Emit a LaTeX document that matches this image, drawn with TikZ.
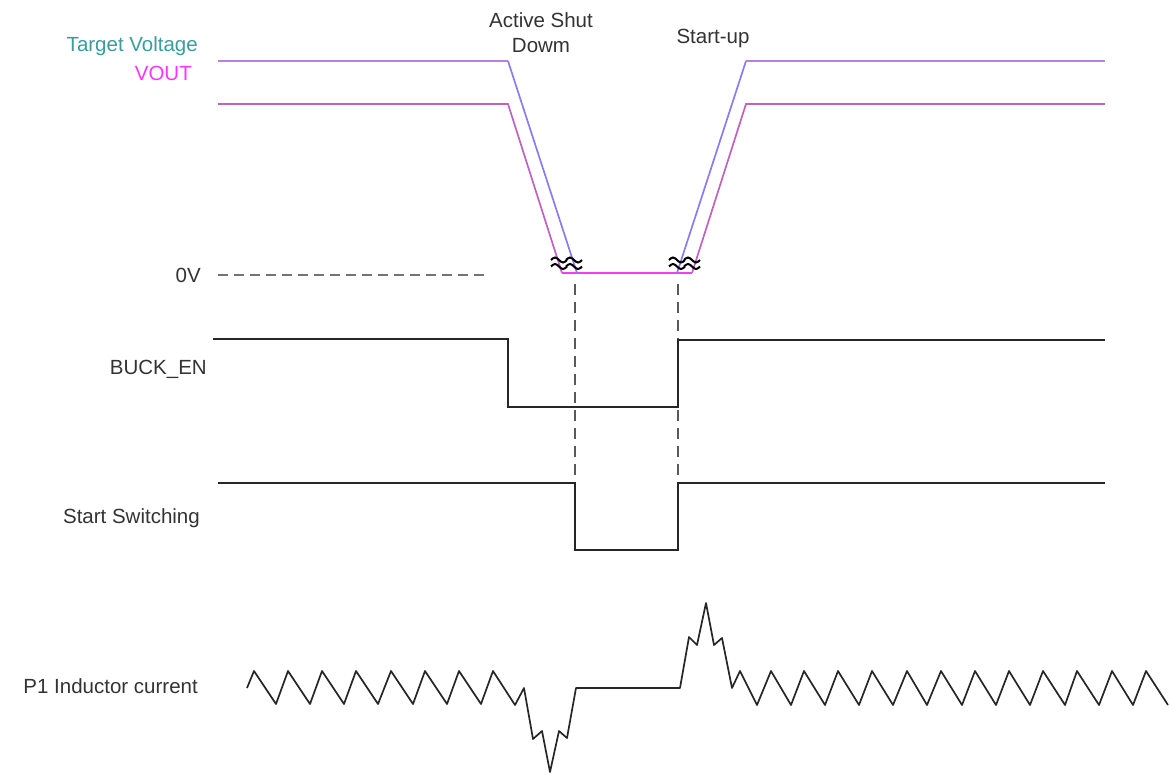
\documentclass[tikz,border=0pt]{standalone}
\usepackage{fontspec}
\setmainfont{Liberation Sans}
\definecolor{teal2}{HTML}{3A9C9C}
\definecolor{mag}{HTML}{FF33FF}
\definecolor{tgt}{HTML}{B880E0}
\definecolor{slp}{HTML}{8A7CF0}
\definecolor{vout}{HTML}{C062C0}
\definecolor{txt}{HTML}{333333}
\begin{document}
\begin{tikzpicture}[x=1pt,y=-1pt,
  lbl/.style={font=\fontsize{20.5}{25}\selectfont,text=txt,inner sep=0pt},
  sig/.style={line width=1.7pt,black!85,line join=miter},
  vline/.style={line width=1.7pt},
  dsh/.style={line width=1.3pt,black!65,dash pattern=on 11pt off 7pt},
  wav/.style={line width=2pt,black}]
\useasboundingbox (0,0) rectangle (1170,774);
% labels
\node[lbl,text=teal2,anchor=east] (tv) at (198,46) {Target Voltage};
\node[lbl,text=mag,anchor=east] (vo) at (192,73) {VOUT};
\node[lbl,anchor=east] (zv) at (201,275) {0V};
\node[lbl,anchor=east] (be) at (207,369) {BUCK\_EN};
\node[lbl,anchor=east] (ss) at (200,518) {Start Switching};
\node[lbl,anchor=east] (pi) at (198,686) {P1 Inductor current};
\node[lbl,align=center] (asd) at (541,33) {Active Shut\\Dowm};
\node[lbl] (su) at (713,38) {Start-up};
% 0V dashed
\draw[line width=1.3pt,black!55,dash pattern=on 10pt off 6pt] (218,275) -- (486,275);
% dashed verticals
\draw[dsh] (575,284) -- (575,483);
\draw[dsh] (678,284) -- (678,483);
% voltages
\draw[vline,vout] (218,104) -- (508,104) -- (562,273);
\draw[vline,mag!80!vout] (562,273) -- (692,273);
\draw[vline,vout] (692,273) -- (746,104) -- (1105,104);
\draw[vline,tgt] (218,61) -- (508,61);
\draw[vline,slp] (508,61) -- (577,273);
\draw[vline,slp] (677,273) -- (746,61);
\draw[vline,tgt] (746,61) -- (1105,61);
% squiggles
\foreach \x in {551,566,669,684}{
  \draw[wav] (\x,260) sin (\x+4,257.5) cos (\x+8,260) sin (\x+12,262.5) cos (\x+16,260);
  \draw[wav] (\x,266.5) sin (\x+4,264) cos (\x+8,266.5) sin (\x+12,269) cos (\x+16,266.5);
}
% BUCK_EN
\draw[sig] (213,339) -- (508,339) -- (508,407) -- (678,407) -- (678,340) -- (1105,340);
% Start switching
\draw[sig] (218,483) -- (575,483) -- (575,550) -- (678,550) -- (678,483) -- (1105,483);
% inductor current
\draw[sig,line join=round] (247,688) -- (254,671) -- (276,704) -- (288,671) -- (310,704) -- (322,671) -- (344,704) -- (356,671) -- (378,704) -- (391,671) -- (413,704) -- (425,671) -- (447,704) -- (459,671) -- (481,704) -- (493,671) -- (515,705) -- (524,688) -- (533,739) -- (542,731) -- (550,772) -- (559,731) -- (567,738) -- (576,688) -- (680,688) -- (689,637) -- (697,645) -- (706,603) -- (714,645) -- (722,638) -- (732,688) -- (740,671) -- (757,705) -- (771,671) -- (791,705) -- (804,671) -- (825,705) -- (838,671) -- (859,705) -- (872,671) -- (893,705) -- (907,671) -- (927,705) -- (941,671) -- (962,705) -- (975,671) -- (996,705) -- (1009,671) -- (1030,705) -- (1043,671) -- (1065,705) -- (1077,671) -- (1099,705) -- (1112,671) -- (1133,705) -- (1146,671) -- (1168,705);
\end{tikzpicture}
\end{document}
